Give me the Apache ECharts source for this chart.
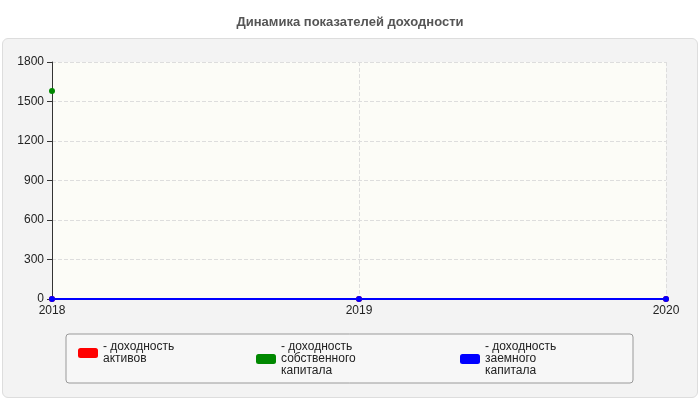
<!DOCTYPE html><html><head><meta charset="utf-8"><script src="https://cdn.jsdelivr.net/npm/echarts@6/dist/echarts.min.js"></script>
<style>body{margin:0;background:#fff}#bg{position:absolute;left:2px;top:38px;width:694px;height:358px;background:#f3f3f3;border:1px solid #ddd;border-radius:6px}#c{position:absolute;left:0;top:0;width:700px;height:400px}</style></head><body><div id="bg"></div><div id="c"></div><script>
const years=['2018','2019','2020'];
const assets=[0,0,0];
const equity=[1580,null,null];
const debt=[0,0,0];
const names=['- доходность активов','- доходность собственного капитала','- доходность заемного капитала'];
const ch=echarts.init(document.getElementById('c'));
const lbl={fontFamily:'Arial',fontSize:12,color:'#222'};
function s(name,data,color){return {name,type:'line',data,symbol:'circle',symbolSize:6,connectNulls:false,lineStyle:{color,width:2},itemStyle:{color}};}
function lg(i,left){return {left,top:341,padding:0,itemWidth:20,itemHeight:10,icon:'roundRect',textStyle:{...lbl,fontSize:12,lineHeight:12,width:165,overflow:'break'},data:[names[i]]};}
ch.setOption({
title:{text:'Динамика показателей доходности',left:'center',top:11,textStyle:{fontFamily:'Arial',fontSize:13,fontWeight:'bold',color:'#555'}},
graphic:[{type:'rect',shape:{x:66,y:334,width:567,height:49,r:3},style:{fill:'#f7f7f7',stroke:'#999',lineWidth:1},z:-1}],
grid:{left:52,right:34,top:62,bottom:101,show:true,backgroundColor:'#fcfcf7',borderWidth:0},
xAxis:{type:'category',data:years,boundaryGap:false,axisLine:{lineStyle:{color:'#333'}},axisTick:{show:false},axisLabel:{...lbl,fontSize:12,margin:6},splitLine:{show:true,lineStyle:{type:'dashed',color:'#ddd'}}},
yAxis:{type:'value',min:0,max:1800,interval:300,axisLine:{show:true,lineStyle:{color:'#333'}},axisTick:{show:true,length:5},axisLabel:{...lbl,margin:8,formatter:v=>String(v)},splitLine:{lineStyle:{type:'dashed',color:'#ddd'}}},
legend:[lg(0,78),lg(1,256),lg(2,460)],
series:[s(names[0],assets,'#f00'),s(names[1],equity,'#080'),s(names[2],debt,'#00f')]
});
</script></body></html>
